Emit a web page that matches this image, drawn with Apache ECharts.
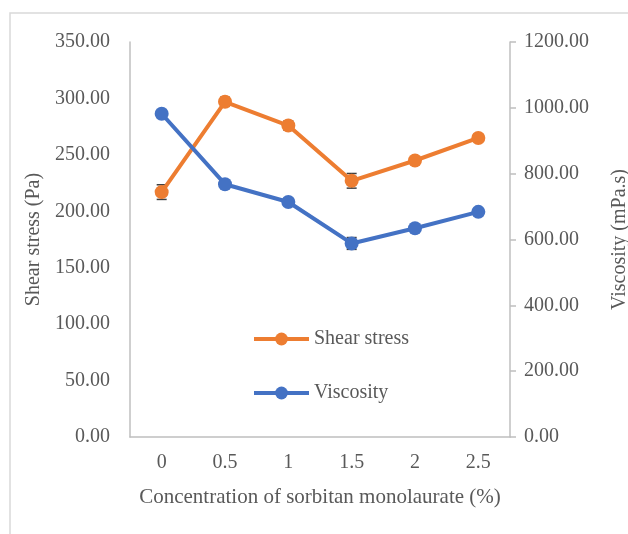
<!DOCTYPE html>
<html>
<head>
<meta charset="utf-8">
<script src="https://cdn.jsdelivr.net/npm/echarts@6/dist/echarts.min.js"></script>
<style>
  html, body { margin: 0; padding: 0; background: #fff; }
  #chart { width: 628px; height: 534px; }
</style>
</head>
<body>
<div id="chart"></div>
<script>
// sorbitan monolaurate concentration (%)
var categories = ["0", "0.5", "1", "1.5", "2", "2.5"];
// shear stress (Pa), left axis
var shearStress = [217, 297, 276, 227, 245, 265];
var shearErr = [6.5, 4, 4, 6.5, 3, 3];
// viscosity (mPa.s), right axis
var viscosity = [982, 768, 714, 588, 634, 684];
var viscErr = [10, 8, 8, 18, 8, 8];

var TEXT = "#595959";
var AXIS = "#bfbfbf";
var FONT = "Liberation Serif";

// error bars drawn as custom series, one per y axis
function errorBars(values, errs, yIdx) {
  var data = [];
  for (var i = 0; i < values.length; i++) {
    data.push([i, values[i] - errs[i], values[i] + errs[i]]);
  }
  return {
    type: "custom",
    yAxisIndex: yIdx,
    z: 1,
    silent: true,
    data: data,
    renderItem: function (params, api) {
      var lo = api.coord([api.value(0), api.value(1)]);
      var hi = api.coord([api.value(0), api.value(2)]);
      var w = 5;
      var style = { stroke: "#404040", lineWidth: 1.5 };
      return {
        type: "group",
        children: [
          { type: "line", shape: { x1: lo[0], y1: lo[1], x2: hi[0], y2: hi[1] }, style: style },
          { type: "line", shape: { x1: lo[0] - w, y1: lo[1], x2: lo[0] + w, y2: lo[1] }, style: style },
          { type: "line", shape: { x1: hi[0] - w, y1: hi[1], x2: hi[0] + w, y2: hi[1] }, style: style }
        ]
      };
    }
  };
}

var chart = echarts.init(document.getElementById("chart"));

var options = {
  animation: false,
  textStyle: { fontFamily: FONT },
  graphic: [
    {
      type: "rect",
      shape: { x: 10, y: 13, width: 640, height: 540 },
      style: { fill: "none", stroke: "#d9d9d9", lineWidth: 1.5 },
      silent: true
    }
  ],
  grid: { left: 130, right: 118, top: 42, bottom: 97, outerBoundsMode: "none" },
  legend: {
    orient: "vertical",
    left: 247,
    top: 324,
    itemWidth: 55,
    itemHeight: 16,
    itemGap: 34,
    data: ["Shear stress", "Viscosity"],
    lineStyle: { width: 4 },
    textStyle: { color: TEXT, fontSize: 20, fontFamily: FONT }
  },
  xAxis: {
    type: "category",
    data: categories,
    name: "Concentration of sorbitan monolaurate (%)",
    nameLocation: "middle",
    nameGap: 50,
    nameTextStyle: { color: TEXT, fontSize: 21, fontFamily: FONT },
    axisLine: { lineStyle: { color: AXIS, width: 1.5 } },
    axisTick: { show: false },
    axisLabel: { color: TEXT, fontSize: 20, margin: 16, fontFamily: FONT }
  },
  yAxis: [
    {
      type: "value",
      min: 0,
      max: 350,
      interval: 50,
      name: "Shear stress (Pa)",
      nameLocation: "middle",
      nameGap: 86,
      nameTextStyle: { color: TEXT, fontSize: 20, fontFamily: FONT },
      axisLine: { show: true, lineStyle: { color: AXIS, width: 1.5 } },
      axisTick: { show: false },
      splitLine: { show: false },
      axisLabel: {
        color: TEXT, fontSize: 20, margin: 20, fontFamily: FONT,
        formatter: function (v) { return v.toFixed(2); }
      }
    },
    {
      type: "value",
      min: 0,
      max: 1200,
      interval: 200,
      position: "right",
      name: "Viscosity (mPa.s)",
      nameLocation: "middle",
      nameGap: 100,
      nameTextStyle: { color: TEXT, fontSize: 20, fontFamily: FONT },
      axisLine: { show: true, lineStyle: { color: AXIS, width: 1.5 } },
      axisTick: { show: true, length: 6, lineStyle: { color: AXIS, width: 1.5 } },
      splitLine: { show: false },
      axisLabel: {
        color: TEXT, fontSize: 20, margin: 14, fontFamily: FONT,
        formatter: function (v) { return v.toFixed(2); }
      }
    }
  ],
  series: [
    errorBars(shearStress, shearErr, 0),
    errorBars(viscosity, viscErr, 1),
    {
      name: "Shear stress",
      type: "line",
      yAxisIndex: 0,
      z: 3,
      data: shearStress,
      symbol: "circle",
      symbolSize: 14,
      itemStyle: { color: "#ed7d31" },
      lineStyle: { color: "#ed7d31", width: 4 }
    },
    {
      name: "Viscosity",
      type: "line",
      yAxisIndex: 1,
      z: 3,
      data: viscosity,
      symbol: "circle",
      symbolSize: 14,
      itemStyle: { color: "#4472c4" },
      lineStyle: { color: "#4472c4", width: 4 }
    }
  ]
};

chart.setOption(options);
</script>
</body>
</html>
